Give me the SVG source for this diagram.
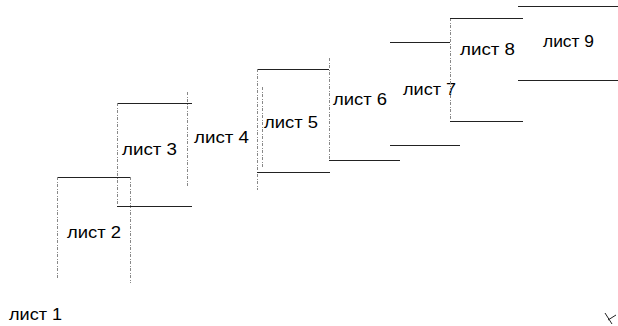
<svg xmlns="http://www.w3.org/2000/svg" width="618" height="326" viewBox="0 0 618 326">
<style>
line{shape-rendering:crispEdges}
.s{stroke:#222;stroke-width:1;fill:none}
.d{stroke:#888;stroke-width:1;fill:none;stroke-dasharray:3 1.5 1 1.5}
text{font-family:"Liberation Sans",Arial,sans-serif;font-size:16px;fill:#000}
</style>
<rect width="618" height="326" fill="#fff"/>
<g id="sheet1"><text x="9" y="320" textLength="53" lengthAdjust="spacingAndGlyphs">лист 1</text></g>
<g id="sheet2">
<line class="s" x1="57" y1="177" x2="130" y2="177"/>
<line class="d" x1="57" y1="177" x2="57" y2="278"/>
<line class="d" x1="130" y1="177" x2="130" y2="283"/>
<text x="67" y="238" textLength="54" lengthAdjust="spacingAndGlyphs">лист 2</text>
</g>
<g id="sheet3">
<line class="s" x1="117" y1="103" x2="192" y2="103"/>
<line class="d" x1="117" y1="103" x2="117" y2="206"/>
<line class="d" x1="187" y1="92" x2="187" y2="188"/>
<line class="s" x1="117" y1="206" x2="192" y2="206"/>
<text x="122" y="155" textLength="55" lengthAdjust="spacingAndGlyphs">лист 3</text>
</g>
<g id="sheet4"><text x="194" y="143" textLength="55" lengthAdjust="spacingAndGlyphs">лист 4</text></g>
<g id="sheet5">
<line class="s" x1="257" y1="69" x2="329" y2="69"/>
<line class="d" x1="257" y1="69" x2="257" y2="190"/>
<line class="d" x1="262" y1="87" x2="262" y2="168"/>
<line class="s" x1="257" y1="172" x2="330" y2="172"/>
<line class="d" x1="329" y1="58" x2="329" y2="160"/>
<text x="264" y="128" textLength="54" lengthAdjust="spacingAndGlyphs">лист 5</text>
</g>
<g id="sheet6">
<line class="s" x1="329" y1="160" x2="400" y2="160"/>
<text x="333" y="105" textLength="54" lengthAdjust="spacingAndGlyphs">лист 6</text>
</g>
<g id="sheet7">
<line class="s" x1="390" y1="42" x2="450" y2="42"/>
<line class="s" x1="390" y1="145" x2="460" y2="145"/>
<text x="403" y="95" textLength="53" lengthAdjust="spacingAndGlyphs">лист 7</text>
</g>
<g id="sheet8">
<line class="d" x1="450" y1="18" x2="450" y2="121"/>
<line class="s" x1="450" y1="18" x2="523" y2="18"/>
<line class="s" x1="450" y1="121" x2="523" y2="121"/>
<text x="460" y="55" textLength="55" lengthAdjust="spacingAndGlyphs">лист 8</text>
</g>
<g id="sheet9">
<line class="s" x1="518" y1="6" x2="618" y2="6"/>
<line class="s" x1="518" y1="80" x2="618" y2="80"/>
<text x="543" y="47" textLength="51" lengthAdjust="spacingAndGlyphs">лист 9</text>
</g>
<path class="s" d="M605 313 L612 324 M608 320 L616 315"/>
</svg>
